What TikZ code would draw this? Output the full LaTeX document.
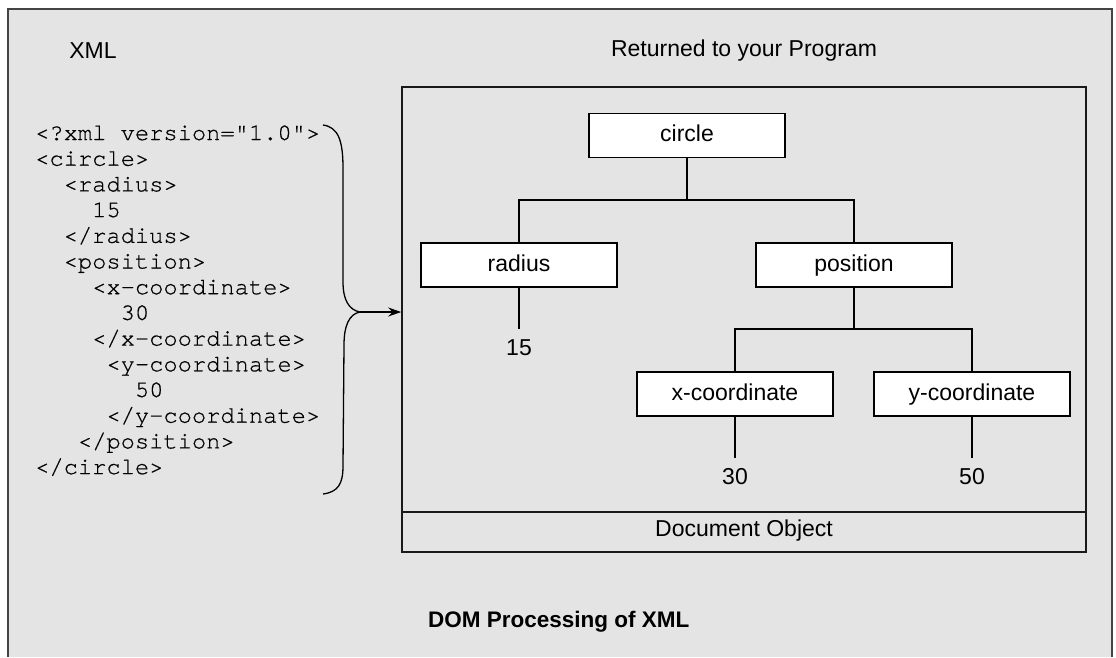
\documentclass[tikz,border=0pt]{standalone}
\usepackage{fontspec}
\setmainfont{Liberation Sans}
\newfontfamily\codefont[FakeBold=0.6]{TeX Gyre Cursor}
\usetikzlibrary{arrows.meta}
\definecolor{bg}{HTML}{E4E4E4}
\definecolor{frame}{HTML}{444444}
\tikzset{
  treebox/.style={draw=black, fill=white, line width=1.3pt, minimum width=196pt, minimum height=44pt, inner sep=0pt, text height=16.5pt, text depth=4.5pt, font=\fontsize{23}{27}\selectfont},
  lbl/.style={inner sep=0pt, font=\fontsize{23}{27}\selectfont},
  codeline/.style={inner sep=0pt, anchor=base west, font=\codefont\fontsize{23.75}{27}\selectfont},
  conn/.style={draw=black, line width=1.3pt},
}
\begin{document}
\begin{tikzpicture}[x=1pt,y=-1pt]
\useasboundingbox (0,0) rectangle (1116,657);
\fill[white] (0,0) rectangle (1116,657);
\fill[bg] (8,9) rectangle (1112,657);
\draw[frame, line width=2.5pt] (8,657) -- (8,9) -- (1112,9) -- (1112,657);

% titles
\node[lbl] (xmltitle) at (93,51) {XML};
\node[lbl] (rettitle) at (744,51) {Returned to your Program};
\node[lbl, font=\fontsize{22.5}{27}\selectfont\bfseries, anchor=west] (caption) at (428,622) {DOM Processing of XML};

% code
\node[codeline] (l1) at (35,140) {<?xml version="1.0">};
\node[codeline] (l2) at (35,165.7) {<circle>};
\node[codeline] (l3) at (63.5,191.4) {<radius>};
\node[codeline] (l4) at (92,217.1) {15};
\node[codeline] (l5) at (63.5,242.8) {</radius>};
\node[codeline] (l6) at (63.5,268.5) {<position>};
\node[codeline] (l7) at (92,294.2) {<x-coordinate>};
\node[codeline] (l8) at (120.5,319.9) {30};
\node[codeline] (l9) at (92,345.6) {</x-coordinate>};
\node[codeline] (l10) at (106.25,371.3) {<y-coordinate>};
\node[codeline] (l11) at (134.75,397) {50};
\node[codeline] (l12) at (106.25,422.7) {</y-coordinate>};
\node[codeline] (l13) at (77.75,448.4) {</position>};
\node[codeline] (l14) at (35,474.1) {</circle>};

% brace
\coordinate (btop) at (323,125);
\coordinate (bbot) at (323,494);
\coordinate (tip) at (360,312);
\draw[black, line width=1.3pt] (btop) .. controls (338,127) and (343,140) .. (343,168) -- (343,282) .. controls (343,300) and (349,310) .. (tip) .. controls (349,314) and (344,326) .. (344,345) -- (343,466) .. controls (343,484) and (338,492) .. (bbot);

% DOM box
\node[draw=black!90, line width=1.6pt, minimum width=684pt, minimum height=465pt, inner sep=0pt] (dom) at (744,319.5) {};
\draw[black!90, line width=1.6pt] (dom.west |- 0,512) -- (dom.east |- 0,512);
\node[lbl] (docobj) at (744,531) {Document Object};

\draw[-{Stealth[length=13pt,width=9pt]}, line width=1.3pt] (tip) -- (dom.west |- tip);

% tree
\node[treebox] (circle) at (687,135.5) {circle};
\node[treebox] (radius) at (519,265) {radius};
\node[treebox] (position) at (854,265) {position};
\node[treebox] (xc) at (735,394) {x-coordinate};
\node[treebox] (yc) at (972,394) {y-coordinate};

\coordinate (j1) at (687,200);
\coordinate (j2) at (854,329);
\coordinate (e15) at (519,329);
\coordinate (e30) at (735,458);
\coordinate (e50) at (972,458);

\draw[conn] (circle.south) -- (j1);
\draw[conn] (radius.north) |- (j1) -| (position.north);
\draw[conn] (position.south) -- (j2);
\draw[conn] (xc.north) |- (j2) -| (yc.north);
\draw[conn] (radius.south) -- (e15);
\draw[conn] (xc.south) -- (e30);
\draw[conn] (yc.south) -- (e50);

\node[lbl] (v15) at (519,348) {15};
\node[lbl] (v30) at (735,477) {30};
\node[lbl] (v50) at (972,477) {50};
\end{tikzpicture}
\end{document}
